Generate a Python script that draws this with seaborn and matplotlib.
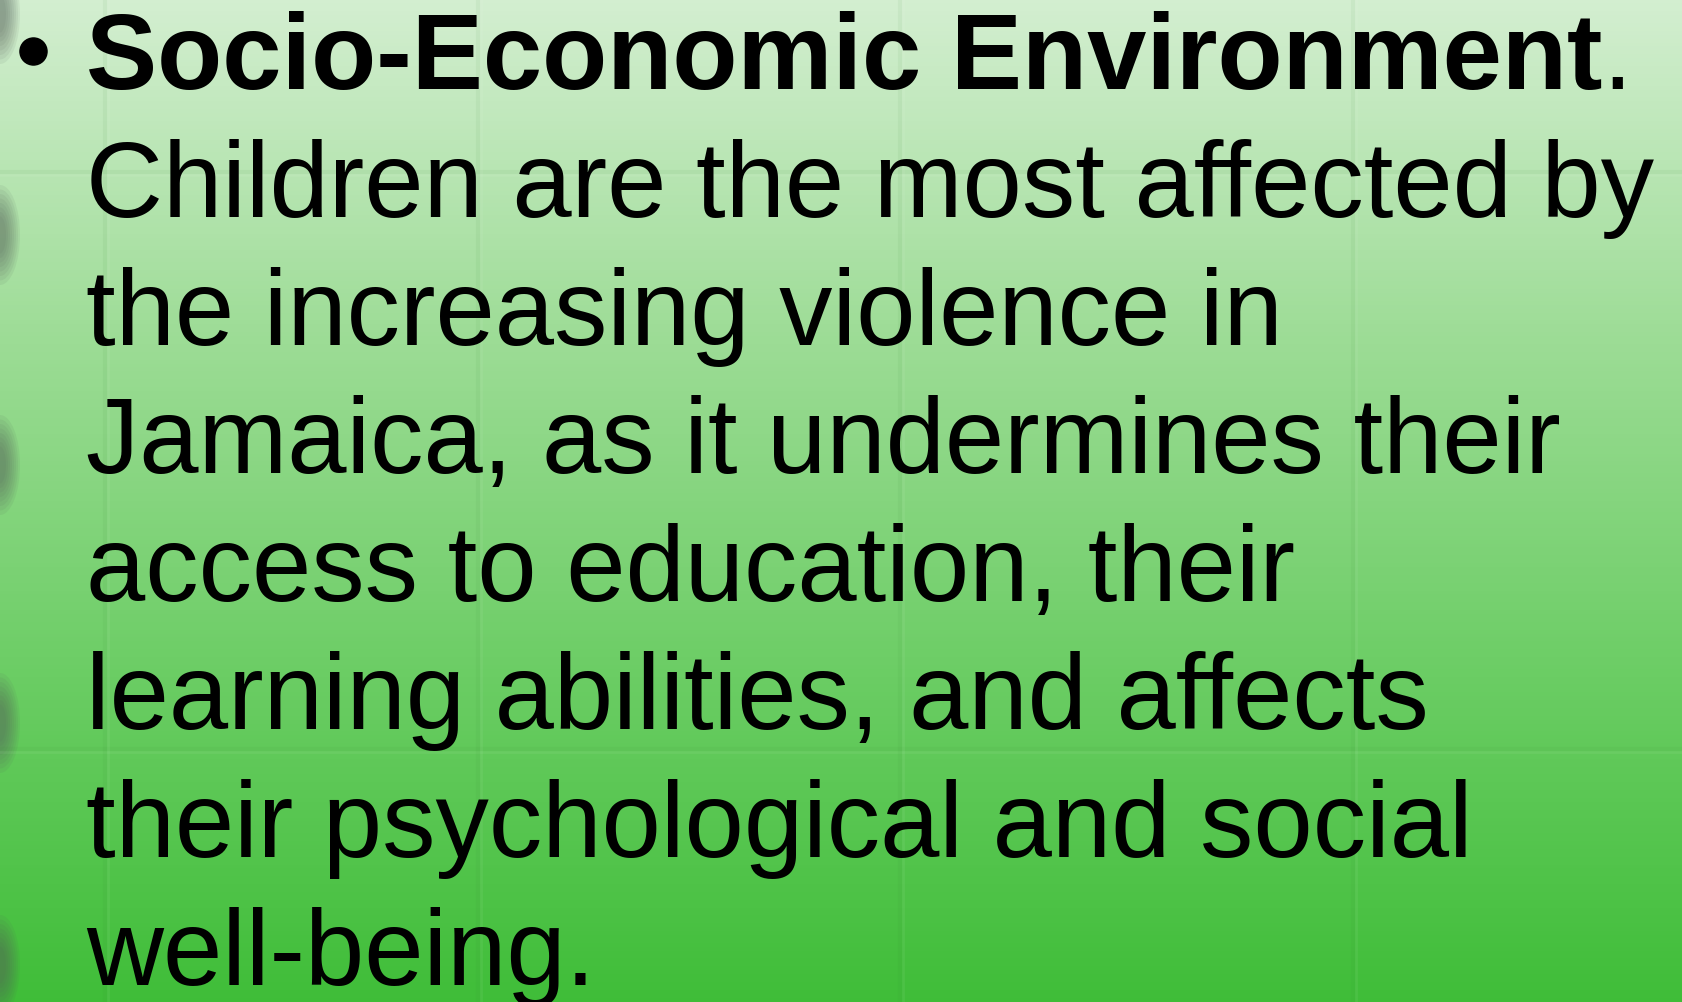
import numpy as np
import seaborn as sns
import matplotlib
matplotlib.use("Agg")
from matplotlib import pyplot as plt
from matplotlib.colors import LinearSegmentedColormap
from matplotlib.lines import Line2D
from matplotlib.patches import Ellipse

# slide text
headline = "Socio-Economic Environment"
headlineEnd = "."
bodyLines = [
    "Children are the most affected by",
    "the increasing violence in",
    "Jamaica, as it undermines their",
    "access to education, their",
    "learning abilities, and affects",
    "their psychological and social",
    "well-being.",
]

# background colour stops, top to bottom
bgStops = ["#d3eed0", "#9ddc96", "#6ccd65", "#3fbd38"]
gridRows = [173, 750]
gridCols = [105, 478, 900, 1353]
ringRows = [15, 236, 466, 724, 966]

W, H = 1683, 1003
sns.set_theme(style="white")
plt.rcParams['font.family'] = ['Liberation Sans', 'DejaVu Sans']

fig = plt.figure(figsize=(W / 100, H / 100), dpi=100)
ax = fig.add_axes([0, 0, 1, 1])
cmap = LinearSegmentedColormap.from_list("slide", bgStops)
grad = np.linspace(0, 1, H).reshape(-1, 1)
sns.heatmap(grad, cmap=cmap, cbar=False, ax=ax, xticklabels=False, yticklabels=False)
ax.set_axis_off()

# faint paper creases
for r in gridRows:
    ax.axhline(r, color="#2f7a2a", alpha=0.06, lw=3)
    ax.axhline(r + 3, color="white", alpha=0.06, lw=2)
for c in gridCols:
    ax.axvline(c / W, color="#2f7a2a", alpha=0.06, lw=3)
    ax.axvline((c + 3) / W, color="white", alpha=0.06, lw=2)

# blurred binder rings on the left edge
for r in ringRows:
    for k in range(8):
        ax.add_patch(Ellipse((0, r), width=(40 - 4 * k) / W, height=100 - 9 * k,
                             color="#56625a", alpha=0.09, lw=0))

x0 = 86 / W
baselines = [89 + 128 * i for i in range(8)]
fs = 76.8

fig.add_artist(Line2D([33 / W], [1 - 52 / H], marker="o", markersize=19.5,
                      color="black", transform=fig.transFigure))

t = fig.text(x0, 1 - baselines[0] / H, headline, fontsize=fs, fontweight="bold",
             va="baseline", ha="left", color="black")
fig.canvas.draw()
bb = t.get_window_extent()
fig.text(bb.x1 / W, 1 - baselines[0] / H, headlineEnd, fontsize=fs,
         va="baseline", ha="left", color="black")

for i, line in enumerate(bodyLines):
    fig.text(x0, 1 - baselines[i + 1] / H, line, fontsize=fs,
             va="baseline", ha="left", color="black")

plt.savefig("out.png", dpi=100)
plt.close()
